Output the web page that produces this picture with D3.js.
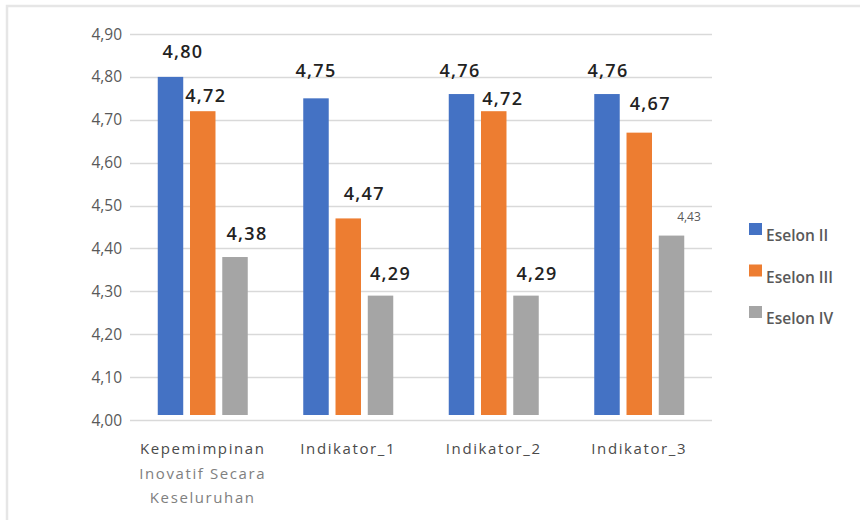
<!DOCTYPE html>
<html>
<head>
<meta charset="utf-8">
<script src="https://cdn.jsdelivr.net/npm/d3@7"></script>
<style>
  html, body { margin: 0; padding: 0; background: #fff; }
  svg { display: block; font-family: "Open Sans", "Noto Sans", sans-serif; }
</style>
</head>
<body>
<svg id="chart" width="860" height="520"></svg>
<script>
// ---- data ----
const categories = [
  ["Kepemimpinan", "Inovatif Secara", "Keseluruhan"],
  ["Indikator_1"],
  ["Indikator_2"],
  ["Indikator_3"]
];
const seriesNames = ["Eselon II", "Eselon III", "Eselon IV"];
const eselonII  = [4.80, 4.75, 4.76, 4.76];
const eselonIII = [4.72, 4.47, 4.72, 4.67];
const eselonIV  = [4.38, 4.29, 4.29, 4.43];
const yTicks = [4.00, 4.10, 4.20, 4.30, 4.40, 4.50, 4.60, 4.70, 4.80, 4.90];

// ---- styles / layout ----
const colors = ["#4472C4", "#ED7D31", "#A5A5A5"];
const seriesValues = [eselonII, eselonIII, eselonIV];
// label nudges (dx, dy relative to bar centre/top) to follow the hand-placed labels
const labelNudge = [
  [[12.5, -19], [3, -9], [12, -17]],
  [[0, -21], [16, -18], [10, -16]],
  [[-1.5, -17], [9, -6], [11, -16]],
  [[1, -17], [11, -23], [17.5, -15]]
];

const svg = d3.select("#chart");
const fmt = v => v.toFixed(2).replace(".", ",");

// frame
svg.append("path")
  .attr("d", "M7,520 V6 H860")
  .attr("fill", "none").attr("stroke", "#e6e6e6").attr("stroke-width", 2.5);

const plotLeft = 130, plotRight = 712, plotTop = 34, plotBottom = 420;
const groupWidth = 90;
const y = d3.scaleLinear().domain([4.0, 4.9]).range([plotBottom, plotTop]);
const x0 = d3.scaleBand().domain(d3.range(categories.length)).range([plotLeft, plotRight]).paddingInner(0).paddingOuter(0);
const x1 = d3.scaleBand().domain(d3.range(seriesNames.length)).range([0, groupWidth]).paddingInner(0.21).paddingOuter(0);
const groupOffset = (x0.bandwidth() - groupWidth) / 2;

// gridlines
svg.append("g").selectAll("line").data(yTicks).join("line")
  .attr("x1", plotLeft).attr("x2", plotRight)
  .attr("y1", d => Math.round(y(d)) + 0.5).attr("y2", d => Math.round(y(d)) + 0.5)
  .attr("stroke", "#d9d9d9").attr("stroke-width", 1.3);

// y tick labels
svg.append("g").selectAll("text").data(yTicks).join("text")
  .attr("x", 122).attr("y", d => y(d) + 5.5)
  .attr("text-anchor", "end")
  .attr("font-size", 15.5).attr("fill", "#595959")
  .text(fmt);

// bars
const groups = svg.append("g").selectAll("g").data(categories).join("g")
  .attr("transform", (d, i) => `translate(${x0(i) + groupOffset},0)`);

groups.each(function(cat, ci) {
  const g = d3.select(this);
  seriesValues.forEach((vals, si) => {
    const v = vals[ci];
    g.append("rect")
      .attr("x", x1(si))
      .attr("width", x1.bandwidth())
      .attr("y", y(v))
      .attr("height", y(4.0) - 5 - y(v))
      .attr("fill", colors[si]);
    const nudge = labelNudge[ci][si];
    const small = (ci === 3 && si === 2);
    g.append("text")
      .attr("x", x1(si) + x1.bandwidth() / 2 + nudge[0])
      .attr("y", y(v) + nudge[1])
      .attr("text-anchor", "middle")
      .attr("font-size", small ? 12 : 18)
      .attr("letter-spacing", small ? 0 : 1.3)
      .attr("font-weight", small ? 400 : 600)
      .attr("fill", small ? "#595959" : "#222222")
      .text(fmt(v));
  });
});

// category labels
svg.append("g").selectAll("text").data(categories).join("text")
  .attr("text-anchor", "middle")
  .attr("font-size", 15)
  .attr("letter-spacing", 1.6)
  .each(function(lines, i) {
    const t = d3.select(this);
    lines.forEach((ln, li) => {
      t.append("tspan")
        .attr("x", x0(i) + x0.bandwidth() / 2)
        .attr("y", 454 + li * 24.5)
        .attr("fill", li === 0 ? "#4a4a4a" : "#808080")
        .text(ln);
    });
  });

// legend
const legend = svg.append("g").selectAll("g").data(seriesNames).join("g")
  .attr("transform", (d, i) => `translate(749,${223 + i * 41.5})`);
legend.append("rect").attr("width", 13).attr("height", 12).attr("fill", (d, i) => colors[i]);
legend.append("text")
  .attr("x", 17).attr("y", 18)
  .attr("font-size", 15.5).attr("font-weight", 600)
  .attr("fill", "#595959")
  .text(d => d);
</script>
</body>
</html>
